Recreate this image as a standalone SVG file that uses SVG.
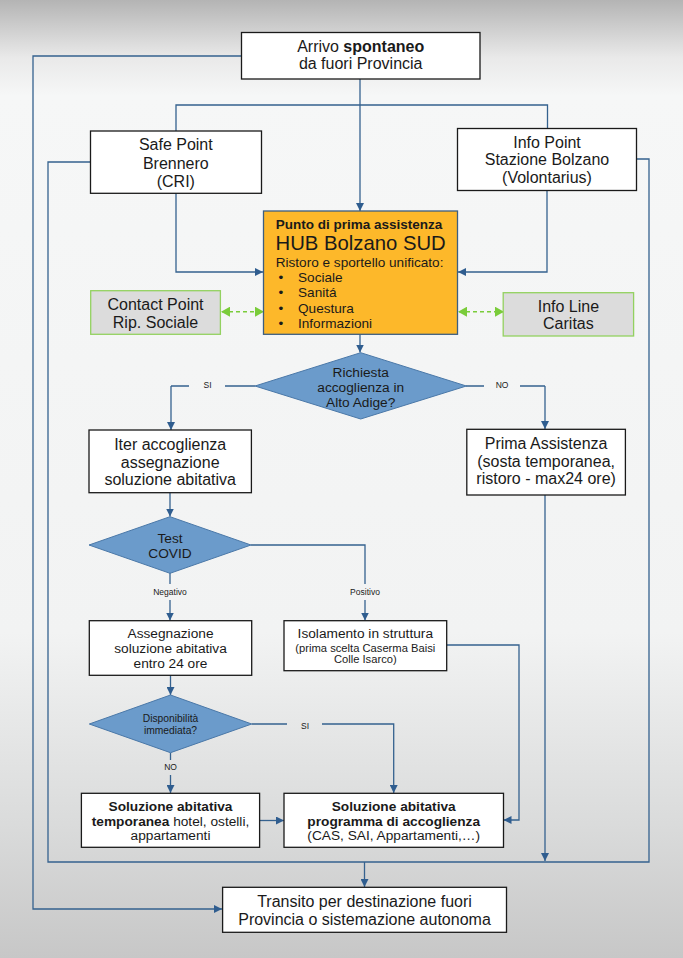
<svg xmlns="http://www.w3.org/2000/svg" width="683" height="958" viewBox="0 0 683 958">
<defs>
<linearGradient id="bg" x1="0" y1="0" x2="0" y2="1">
<stop offset="0" stop-color="#b4b4b4"/>
<stop offset="0.06" stop-color="#e9e9e9"/>
<stop offset="0.1" stop-color="#f6f7f7"/>
<stop offset="0.66" stop-color="#f2f3f3"/>
<stop offset="0.86" stop-color="#dadbdb"/>
<stop offset="1" stop-color="#c7c7c7"/>
</linearGradient>
<marker id="ar" markerUnits="userSpaceOnUse" markerWidth="9" markerHeight="8" refX="8" refY="4" orient="auto">
<path d="M0,0 L8,4 L0,8 z" fill="#2f5d8f"/>
</marker>
<marker id="ga" markerUnits="userSpaceOnUse" markerWidth="9" markerHeight="10" refX="8" refY="5" orient="auto-start-reverse">
<path d="M0,0 L9,5 L0,10 z" fill="#7acc3a"/>
</marker>
<style>
text{font-family:"Liberation Sans",Arial,sans-serif;fill:#1a1a1a}
.box{fill:#ffffff;stroke:#1a1a1a;stroke-width:1.3}
.gbox{fill:#dcdcdc;stroke:#93d160;stroke-width:1.3}
.dia{fill:#6b9bcb;stroke:#4a78a8;stroke-width:1}
.c{fill:none;stroke:#35628f;stroke-width:1.3}
.ca{fill:none;stroke:#35628f;stroke-width:1.3;marker-end:url(#ar)}
.g{fill:none;stroke:#7acc3a;stroke-width:1.6;stroke-dasharray:4,3;marker-start:url(#ga);marker-end:url(#ga)}
.t16{font-size:16px;text-anchor:middle}
.t14{font-size:13.7px;text-anchor:middle}
.lbl{font-size:8.5px;text-anchor:middle}
.b{font-weight:bold}
</style>
</defs>
<rect x="0" y="0" width="683" height="958" fill="url(#bg)"/>

<g id="connectors">
<path class="ca" d="M360,79 V211"/>
<path class="c" d="M176,131 V105 H547.5 V128"/>
<path class="ca" d="M176,193 V272 H263"/>
<path class="ca" d="M547,190 V272 H458"/>
<path class="ca" d="M241,56 H33 V909 H222"/>
<path class="c" d="M90,162 H48 V862 H649 V159 H636"/>
<path class="ca" d="M364.5,862 V887"/>
<path class="ca" d="M360,334 V352.5"/>
<path class="c" d="M255,386 H225 M189,386 H171"/>
<path class="ca" d="M171,386 V430"/>
<path class="c" d="M466,386 H484 M520,386 H545"/>
<path class="ca" d="M545,386 V429"/>
<path class="ca" d="M545,495 V861"/>
<path class="ca" d="M170,493 V516.5"/>
<path class="c" d="M251,545 H365 V584"/>
<path class="ca" d="M365,600 V620.5"/>
<path class="c" d="M170,573 V584"/>
<path class="ca" d="M170,600 V620.5"/>
<path class="ca" d="M446.7,645 H519 V820 H503.5"/>
<path class="ca" d="M170.5,675 V695"/>
<path class="c" d="M251.7,724 H287"/>
<path class="ca" d="M322,724 H393.7 V793"/>
<path class="c" d="M170.5,752.7 V760"/>
<path class="ca" d="M170.5,775 V793"/>
<path class="ca" d="M259.6,820.5 H284"/>
<path class="g" d="M222,311.7 H263"/>
<path class="g" d="M459,311.7 H503"/>
<text class="lbl" x="207.5" y="388">SI</text>
<text class="lbl" x="502" y="388">NO</text>
<text class="lbl" x="170" y="594.7">Negativo</text>
<text class="lbl" x="365" y="594.7">Positivo</text>
<text class="lbl" x="305" y="728.7">SI</text>
<text class="lbl" x="170.5" y="770.3">NO</text>
</g>

<g id="arrivo">
<rect class="box" x="241.5" y="32.5" width="238.5" height="46.5"/>
<text class="t16" x="360.7" y="51.5">Arrivo <tspan class="b">spontaneo</tspan></text>
<text class="t16" x="360.7" y="69">da fuori Provincia</text>
</g>

<g id="safe-point">
<rect class="box" x="90.5" y="131" width="171" height="62.3"/>
<text class="t16" x="175.8" y="149.8">Safe Point</text>
<text class="t16" x="175.8" y="168.5">Brennero</text>
<text class="t16" x="175.8" y="187">(CRI)</text>
</g>

<g id="info-point">
<rect class="box" x="457.5" y="128.5" width="179" height="62"/>
<text class="t16" x="547" y="147.5">Info Point</text>
<text class="t16" x="547" y="165">Stazione Bolzano</text>
<text class="t16" x="547" y="183">(Volontarius)</text>
</g>

<g id="hub">
<rect x="263.5" y="211" width="194" height="123.3" fill="#fdb82a" stroke="#3c5e80" stroke-width="1.3"/>
<text x="275.7" y="228.8" font-size="13.5" font-weight="bold">Punto di prima assistenza</text>
<text x="275.5" y="250" font-size="20.3">HUB Bolzano SUD</text>
<text x="275.7" y="266.5" font-size="13.6">Ristoro e sportello unificato:</text>
<g font-size="13.6">
<text x="281" y="282.1" text-anchor="middle">•</text>
<text x="298" y="282.1">Sociale</text>
<text x="281" y="297.3" text-anchor="middle">•</text>
<text x="298" y="297.3">Sanitá</text>
<text x="281" y="312.5" text-anchor="middle">•</text>
<text x="298" y="312.5">Questura</text>
<text x="281" y="328.1" text-anchor="middle">•</text>
<text x="298" y="328.1">Informazioni</text>
</g>
</g>

<g id="contact-point">
<rect class="gbox" x="90.7" y="290.7" width="129.7" height="43.6"/>
<text class="t16" x="155.5" y="309.8">Contact Point</text>
<text class="t16" x="155.5" y="327.5">Rip. Sociale</text>
</g>

<g id="info-line">
<rect class="gbox" x="503.2" y="292.7" width="130.4" height="43.3"/>
<text class="t16" x="568.4" y="311.8">Info Line</text>
<text class="t16" x="568.4" y="329">Caritas</text>
</g>

<g id="richiesta">
<polygon class="dia" points="360.7,352.7 466.4,386 360.7,419 255,386"/>
<text class="t14" x="360.7" y="376.5">Richiesta</text>
<text class="t14" x="360.7" y="391.5">accoglienza in</text>
<text class="t14" x="360.7" y="406.5">Alto Adige?</text>
</g>

<g id="iter">
<rect class="box" x="89" y="430" width="162.4" height="62.7"/>
<text class="t16" x="170.2" y="449.8">Iter accoglienza</text>
<text class="t16" x="170.2" y="467.5">assegnazione</text>
<text class="t16" x="170.2" y="485">soluzione abitativa</text>
</g>

<g id="prima-assistenza">
<rect class="box" x="466.8" y="429.3" width="158.6" height="65.7"/>
<text class="t16" x="546.1" y="449">Prima Assistenza</text>
<text class="t16" x="546.1" y="466.5">(sosta temporanea,</text>
<text class="t16" x="546.1" y="484">ristoro - max24 ore)</text>
</g>

<g id="test-covid">
<polygon class="dia" points="170,516.7 251,545 170,573.3 89,545"/>
<text class="t14" x="170" y="543.3" font-size="14">Test</text>
<text class="t14" x="170" y="558.3" font-size="14">COVID</text>
</g>

<g id="assegnazione">
<rect class="box" x="89.3" y="620.7" width="162.4" height="54.6"/>
<text class="t14" x="170.5" y="637.6">Assegnazione</text>
<text class="t14" x="170.5" y="653.2">soluzione abitativa</text>
<text class="t14" x="170.5" y="668.2">entro 24 ore</text>
</g>

<g id="isolamento">
<rect class="box" x="284" y="620.7" width="162.7" height="50"/>
<text class="t14" x="365.3" y="637.6">Isolamento in struttura</text>
<text x="365.3" y="651.7" font-size="11.2" text-anchor="middle">(prima scelta Caserma Baisi</text>
<text x="365.3" y="663.3" font-size="11.2" text-anchor="middle">Colle Isarco)</text>
</g>

<g id="disponibilita">
<polygon class="dia" points="170.5,695 251.7,724 170.5,752.7 89.3,724"/>
<text x="170.5" y="722" font-size="10.3" text-anchor="middle">Disponibilità</text>
<text x="170.5" y="734.4" font-size="10.3" text-anchor="middle">immediata?</text>
</g>

<g id="temporanea">
<rect class="box" x="81.4" y="793.3" width="178.2" height="54"/>
<text class="t14 b" x="170.5" y="810.6">Soluzione abitativa</text>
<text class="t14" x="170.5" y="825.6"><tspan class="b">temporanea</tspan> hotel, ostelli,</text>
<text class="t14" x="170.5" y="840.2">appartamenti</text>
</g>

<g id="programma">
<rect class="box" x="284" y="793.3" width="219.5" height="54"/>
<text class="t14 b" x="393.7" y="810.6">Soluzione abitativa</text>
<text class="t14 b" x="393.7" y="825.6">programma di accoglienza</text>
<text class="t14" x="393.7" y="840.2">(CAS, SAI, Appartamenti,…)</text>
</g>

<g id="transito">
<rect class="box" x="222.6" y="887.3" width="283.9" height="45"/>
<text class="t16" x="364.5" y="906.5">Transito per destinazione fuori</text>
<text class="t16" x="364.5" y="924.5">Provincia o sistemazione autonoma</text>
</g>
</svg>
